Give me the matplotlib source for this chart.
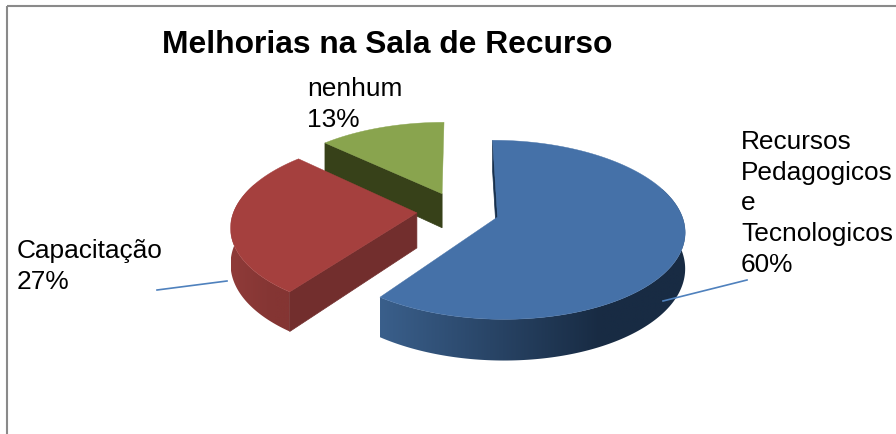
import numpy as np
import matplotlib
matplotlib.use("Agg")
import matplotlib.pyplot as plt
from matplotlib.colors import LinearSegmentedColormap
from matplotlib.patches import Polygon

plt.rcParams['font.family'] = ['Liberation Sans', 'DejaVu Sans']

title = "Melhorias na Sala de Recurso"
categories = ["Recursos\nPedagogicos\ne\nTecnologicos", "Capacitação", "nenhum"]
values = [60, 27, 13]
top_colors = ["#4571a8", "#a5403e", "#89a44e"]
cut_colors = ["#17304d", "#722e2d", "#374119"]
side_from = ["#3a5f8b", "#8f3b39", "#374119"]
side_to = ["#182b43", "#843533", "#374119"]
label_pos = [(741, 130), (17, 239), (307, 77)]
leaders = [((663, 301), (747, 280)), ((157, 290), (227, 281)), None]

XC, YC, RX, RY, K, DEPTH, EXPLODE = 458, 211, 183, 86, 0.141, 35, 0.225


def project(u, v, z=0.0):
    d = 1 + K * np.asarray(v)
    return XC + RX * np.asarray(u) / d, YC - RY * np.asarray(v) / d + z * DEPTH / d


def wedge(a0, a1, explode):
    mid = np.radians((a0 + a1) / 2)
    ox, oy = explode * np.sin(mid), explode * np.cos(mid)
    t = np.radians(np.linspace(a0, a1, 200))
    return ox, oy, ox + np.sin(t), oy + np.cos(t), t


fig = plt.figure(figsize=(8.96, 4.34), dpi=100)
ax = fig.add_axes([0, 0, 1, 1])
ax.axis("off")

# chart frame
ax.plot([7, 7], [434, 6], color="#8a8a8a", lw=1.5, zorder=0, solid_capstyle="butt")
ax.plot([7, 896], [6, 6], color="#8a8a8a", lw=1.5, zorder=0, solid_capstyle="butt")

angles = np.concatenate([[0], np.cumsum(values) / np.sum(values) * 360])
z = 1
for i in [2, 1, 0]:  # far slice first
    ox, oy, u, v, t = wedge(angles[i], angles[i + 1], EXPLODE)

    # outer rim, front part only, with a left-to-right shade
    front = np.cos(t) < 0.35
    if i != 2:
        px, py0 = project(u[front], v[front])
        _, py1 = project(u[front], v[front], 1.0)
        poly = Polygon(np.c_[np.r_[px, px[::-1]], np.r_[py0, py1[::-1]]], closed=True,
                       transform=ax.transData, fc="none", ec="none")
        ax.add_patch(poly)
        cmap = LinearSegmentedColormap.from_list(
            "s", [(0, side_from[i]), (0.72, side_to[i]), (1, side_to[i])])
        im = ax.imshow(np.linspace(0, 1, 256)[None, :], cmap=cmap, aspect="auto", zorder=z,
                       extent=[px.min(), px.max(), py1.max(), py0.min()])
        im.set_clip_path(poly)

    # cut face along the first edge of the slice
    qx0, qy0 = project(np.array([ox, u[0]]), np.array([oy, v[0]]))
    qx1, qy1 = project(np.array([ox, u[0]]), np.array([oy, v[0]]), 1.0)
    ax.fill([qx0[0], qx0[1], qx1[1], qx1[0]], [qy0[0], qy0[1], qy1[1], qy1[0]],
            color=cut_colors[i], lw=0.5, zorder=z + 1)

    # top surface
    tx, ty = project(np.r_[ox, u], np.r_[oy, v])
    ax.fill(tx, ty, color=top_colors[i], lw=0.3, zorder=z + 2)
    z += 3

# data labels
for cat, val, pos in zip(categories, values, label_pos):
    ax.text(pos[0], pos[1], f"{cat}\n{val}%", fontsize=18.9, color="black", ha="left", va="top",
            linespacing=1.35, zorder=20)
for seg in leaders:
    if seg:
        ax.plot([seg[0][0], seg[1][0]], [seg[0][1], seg[1][1]], color="#4f81bd", lw=1.2, zorder=19)

ax.text(387, 45, title, fontsize=22.9, fontweight="bold", ha="center", va="center", color="black", zorder=20)

ax.set_xlim(0, 896)
ax.set_ylim(434, 0)
fig.savefig("out.png", dpi=100)
